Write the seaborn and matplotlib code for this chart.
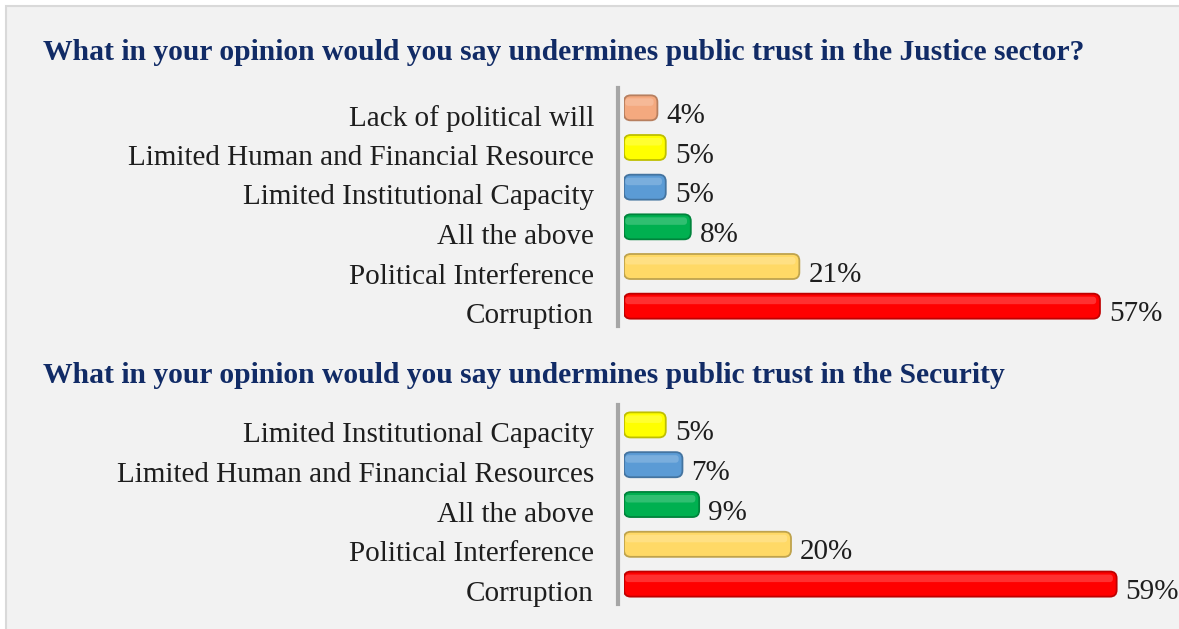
import matplotlib
matplotlib.use("Agg")
import matplotlib.pyplot as plt
from matplotlib.patches import FancyBboxPatch, Rectangle
from matplotlib.colors import to_rgb
from matplotlib.transforms import offset_copy
import seaborn as sns

# Survey responses (percent of respondents)
justice_causes = [
    "Lack of political will",
    "Limited Human and Financial Resource",
    "Limited Institutional Capacity",
    "All the above",
    "Political Interference",
    "Corruption",
]
justice_pct = [4, 5, 5, 8, 21, 57]
justice_colors = ["#F4A97F", "#FFFF00", "#5B9BD5", "#00B050", "#FFD966", "#FF0000"]

security_causes = [
    "Limited Institutional Capacity",
    "Limited Human and Financial Resources",
    "All the above",
    "Political Interference",
    "Corruption",
]
security_pct = [5, 7, 9, 20, 59]
security_colors = ["#FFFF00", "#5B9BD5", "#00B050", "#FFD966", "#FF0000"]

justice_title = "What in your opinion would you say undermines public trust in the Justice sector?"
security_title = "What in your opinion would you say undermines public trust in the Security"

W, H = 1179, 629
sns.set_theme(style="white")
plt.rcParams["font.family"] = ["Liberation Serif", "DejaVu Serif"]

fig = plt.figure(figsize=(W / 100, H / 100), dpi=100, facecolor="white")

# light grey panel behind everything
fig.patches.append(Rectangle((6 / W, -0.02), 1.02, 1 - 6 / H + 0.02,
                             transform=fig.transFigure, facecolor="#F2F2F2",
                             edgecolor="#D9D9D9", linewidth=1.5, zorder=-10))

TITLE_COLOR = "#112B66"
TEXT_COLOR = "#1E1E1E"
FS = 21
PX_PER_PCT = 8.35
X_LEFT = 624
XMAX = (W - X_LEFT) / PX_PER_PCT


def darker(c, f=0.75):
    r, g, b = to_rgb(c)
    return (r * f, g * f, b * f)


def lighter(c, f=0.35):
    r, g, b = to_rgb(c)
    return (r + (1 - r) * f, g + (1 - g) * f, b + (1 - b) * f)


def panel(top_px, bottom_px, causes, pct, colors):
    ax = fig.add_axes([X_LEFT / W, 1 - bottom_px / H, (W - X_LEFT) / W,
                       (bottom_px - top_px) / H])
    ax.set_facecolor("none")
    sns.barplot(x=pct, y=causes, hue=causes, palette=colors, orient="h",
                width=0.63, legend=False, ax=ax, saturation=1)
    ax.set_xlim(0, XMAX)
    ax.set_ylim(len(causes) - 0.5, -0.5)

    # rounded, outlined bars built from the seaborn rectangles
    row_px = (bottom_px - top_px) / len(causes)
    aspect = PX_PER_PCT / row_px
    value_tf = offset_copy(ax.transData, fig=fig, x=9, y=5, units="dots")
    for patch, c in zip(list(ax.patches), colors):
        x, y = patch.get_x(), patch.get_y()
        w, h = patch.get_width(), patch.get_height()
        patch.set_visible(False)
        ax.add_patch(FancyBboxPatch((x, y), w, h,
                                    boxstyle="round,pad=0,rounding_size=0.8",
                                    mutation_aspect=aspect, facecolor=c,
                                    edgecolor=darker(c), linewidth=1.3, zorder=3))
        # soft highlight on the upper part of each bar
        ax.add_patch(FancyBboxPatch((x + 0.15, y + h * 0.12), max(w - 0.6, 0.1), h * 0.3,
                                    boxstyle="round,pad=0,rounding_size=0.4",
                                    mutation_aspect=aspect, facecolor=lighter(c),
                                    edgecolor="none", alpha=0.55, zorder=4))
        ax.text(x + w, y + h / 2, f"{int(round(w))}%", va="top", ha="left",
                fontsize=FS, color=TEXT_COLOR, transform=value_tf)

    # category names, right-aligned left of the axis line
    label_tf = offset_copy(ax.get_yaxis_transform(), fig=fig, x=-30, y=3, units="dots")
    for i, name in enumerate(causes):
        ax.text(0, i, name, ha="right", va="top", fontsize=FS,
                color=TEXT_COLOR, transform=label_tf)

    for s in ["top", "right", "bottom"]:
        ax.spines[s].set_visible(False)
    ax.spines["left"].set_position(("outward", 4.5))
    ax.spines["left"].set_color("#A6A6A6")
    ax.spines["left"].set_linewidth(3)
    ax.set_xticks([])
    ax.set_xlabel("")
    ax.set_ylabel("")
    ax.tick_params(axis="y", length=0, labelleft=False)
    return ax


panel(88, 326, justice_causes, justice_pct, justice_colors)
panel(405, 604, security_causes, security_pct, security_colors)

fig.text(43 / W, 1 - 60.5 / H, justice_title, ha="left", va="baseline",
         fontsize=21.3, fontweight="bold", color=TITLE_COLOR)
fig.text(43 / W, 1 - 383 / H, security_title, ha="left", va="baseline",
         fontsize=21.3, fontweight="bold", color=TITLE_COLOR)

fig.savefig("out.png", dpi=100, facecolor="white")
